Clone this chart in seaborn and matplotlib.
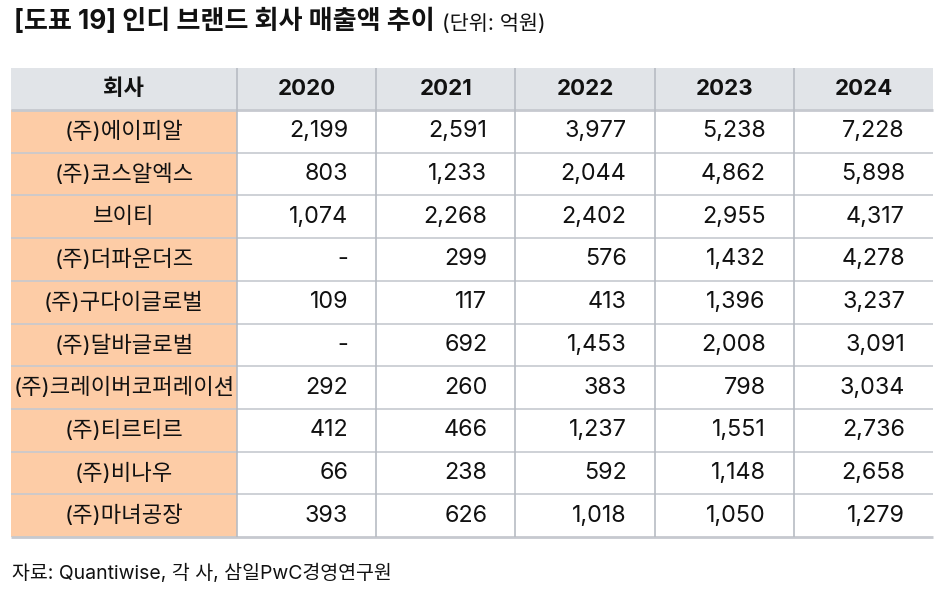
import matplotlib
matplotlib.use("Agg")
import matplotlib.pyplot as plt
import seaborn as sns
from matplotlib.patches import Rectangle

# table data (단위: 억원), None = "-"
companies = ["(주)에이피알", "(주)코스알엑스", "브이티", "(주)더파운더즈", "(주)구다이글로벌",
             "(주)달바글로벌", "(주)크레이버코퍼레이션", "(주)티르티르", "(주)비나우", "(주)마녀공장"]
years = ["2020", "2021", "2022", "2023", "2024"]
sales_2020 = [2199, 803, 1074, None, 109, None, 292, 412, 66, 393]
sales_2021 = [2591, 1233, 2268, 299, 117, 692, 260, 466, 238, 626]
sales_2022 = [3977, 2044, 2402, 576, 413, 1453, 383, 1237, 592, 1018]
sales_2023 = [5238, 4862, 2955, 1432, 1396, 2008, 798, 1551, 1148, 1050]
sales_2024 = [7228, 5898, 4317, 4278, 3237, 3091, 3034, 2736, 2658, 1279]
columns = [sales_2020, sales_2021, sales_2022, sales_2023, sales_2024]

title = "[도표 19] 인디 브랜드 회사 매출액 추이"
unit = "(단위: 억원)"
source = "자료: Quantiwise, 각 사, 삼일PwC경영연구원"

sns.set_theme(style="white")
# Inter for latin/digits, Noto CJK for hangul
plt.rcParams['font.family'] = ['Inter', 'Noto Sans CJK KR', 'DejaVu Sans']

header_color = "#E1E4E8"
name_color = "#FDCCA6"
vline_color = "#B8BCC3"
hline_color = "#C6C9CF"
text_color = "#111111"

fig = plt.figure(figsize=(9.41, 5.89), dpi=100)
ax = fig.add_axes([0, 0, 1, 1])
ax.set_xlim(0, 941)
ax.set_ylim(589, 0)
ax.axis("off")

left, right = 11, 933
first_w = 226
col_w = (right - left - first_w) / len(years)
top, head_bottom = 68, 110
row_h = (537 - head_bottom) / len(companies)
bottom = head_bottom + row_h * len(companies)

# backgrounds
ax.add_patch(Rectangle((left, top), right - left, head_bottom - top, color=header_color, lw=0))
ax.add_patch(Rectangle((left, head_bottom), first_w, bottom - head_bottom, color=name_color, lw=0))

# grid lines
for i in range(len(companies) + 1):
    y = head_bottom + row_h * i
    lw = 2 if i in (0, len(companies)) else 1.2
    ax.plot([left, right], [y, y], color=hline_color, lw=lw, solid_capstyle="butt")
for j in range(len(years)):
    x = left + first_w + col_w * j
    ax.plot([x, x], [top, bottom], color=vline_color, lw=1.2, solid_capstyle="butt")

# header
ax.text(left + first_w / 2, (top + head_bottom) / 2, "회사", ha="center", va="center",
        fontsize=16, fontweight="bold", color=text_color)
for j, yr in enumerate(years):
    ax.text(left + first_w + col_w * (j + 0.5), (top + head_bottom) / 2, yr, ha="center",
            va="center", fontsize=16, fontweight="bold", color=text_color)

# body
for i, name in enumerate(companies):
    yc = head_bottom + row_h * (i + 0.5)
    ax.text(left + first_w / 2, yc, name, ha="center", va="center", fontsize=16, color=text_color)
    for j, col in enumerate(columns):
        v = col[i]
        label = "-" if v is None else f"{v:,}"
        ax.text(left + first_w + col_w * (j + 1) - 28, yc, label, ha="right", va="center",
                fontsize=16.8, color=text_color)

# title and source
t = ax.text(14, 22, title, ha="left", va="center", fontsize=18.8, fontweight="bold", color=text_color)
fig.canvas.draw()
bb = t.get_window_extent().transformed(ax.transData.inverted())
ax.text(bb.x1 + 7, 24, unit, ha="left", va="center", fontsize=15, color=text_color)
ax.text(12, 573, source, ha="left", va="center", fontsize=14, color=text_color)

fig.savefig("out.png", dpi=100)
